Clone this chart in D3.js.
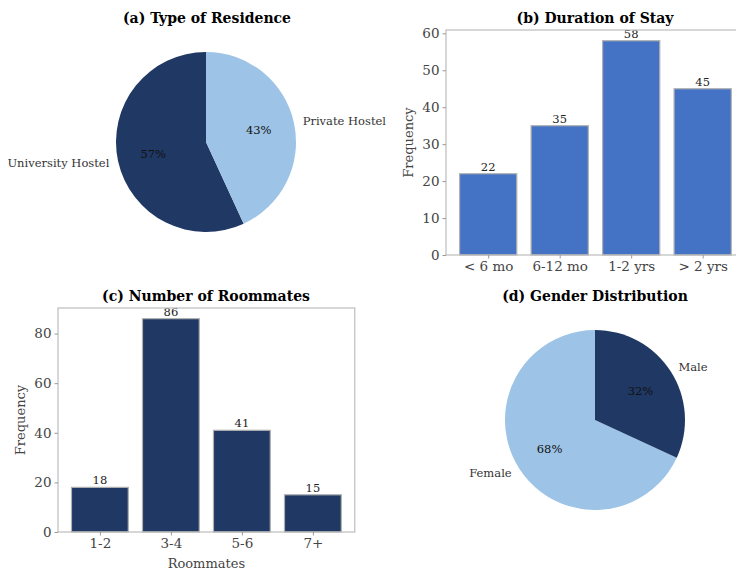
<!DOCTYPE html>
<html>
<head>
<meta charset="utf-8">
<script src="https://cdn.jsdelivr.net/npm/d3@7"></script>
<style>
  body { margin: 0; background: #fff; }
  svg { display: block; font-family: "DejaVu Serif", serif; }
</style>
</head>
<body>
<script>
// data
var residenceLabels = ["University Hostel", "Private Hostel"];
var residenceCounts = [91, 69];

var stayLabels = ["< 6 mo", "6-12 mo", "1-2 yrs", "> 2 yrs"];
var stayCounts = [22, 35, 58, 45];
var stayTicks = [0, 10, 20, 30, 40, 50, 60];

var roomLabels = ["1-2", "3-4", "5-6", "7+"];
var roomCounts = [18, 86, 41, 15];
var roomTicks = [0, 20, 40, 60, 80];

var genderLabels = ["Female", "Male"];
var genderCounts = [109, 51];

var dark = "#203864", light = "#9dc3e6", mid = "#4472c4";

var svg = d3.select("body").append("svg")
            .attr("width", 736)
            .attr("height", 570);

function title(x, y, t) {
  svg.append("text").attr("x", x).attr("y", y)
     .attr("text-anchor", "middle")
     .style("font-weight", "bold").style("font-size", "14px")
     .attr("fill", "#000").text(t);
}

// pie, first slice goes counterclockwise from top (like matplotlib startangle=90)
function pieChart(cx, cy, r, labels, counts, colors) {
  var g = svg.append("g").attr("transform", "translate(" + cx + "," + cy + ")");
  var pie = d3.pie().sort(null).startAngle(0).endAngle(-2 * Math.PI);
  var arcs = pie(counts);
  var arc = d3.arc().innerRadius(0).outerRadius(r);
  var total = d3.sum(counts);

  g.selectAll("path").data(arcs).enter().append("path")
   .attr("d", arc)
   .attr("fill", function(d, i) { return colors[i]; });

  arcs.forEach(function(d, i) {
    var a = (d.startAngle + d.endAngle) / 2;
    var sx = Math.sin(a), sy = -Math.cos(a);
    g.append("text")
     .attr("x", sx * r * 0.6).attr("y", sy * r * 0.6)
     .attr("dy", "0.35em").attr("text-anchor", "middle")
     .style("font-size", "11.5px").attr("fill", "#111")
     .text(Math.round(d.value / total * 100) + "%");
    g.append("text")
     .attr("x", sx * r * 1.1).attr("y", sy * r * 1.1)
     .attr("dy", "0.35em")
     .attr("text-anchor", sx > 0 ? "start" : "end")
     .style("font-size", "11.5px").attr("fill", "#333")
     .text(labels[i]);
  });
}

function barChart(left, top, bottom, step, cats, vals, ticks, color, xlab) {
  var n = cats.length;
  var lo = -0.59, hi = n - 1 + 0.59;
  var right = left + (hi - lo) * step;
  var x = d3.scaleLinear().domain([lo, hi]).range([left, right]);
  var ymax = d3.max(vals) * 1.05;
  var y = d3.scaleLinear().domain([0, ymax]).range([bottom, top]);
  var g = svg.append("g");

  g.selectAll("rect").data(vals).enter().append("rect")
   .attr("x", function(d, i) { return x(i - 0.4); })
   .attr("width", function() { return x(0.4) - x(-0.4); })
   .attr("y", function(d) { return y(d); })
   .attr("height", function(d) { return y(0) - y(d); })
   .attr("fill", color)
   .attr("stroke", "#b0b0b0").attr("stroke-width", 1.2);

  g.selectAll(".val").data(vals).enter().append("text")
   .attr("x", function(d, i) { return x(i); })
   .attr("y", function(d) { return y(d) - 3; })
   .attr("text-anchor", "middle")
   .style("font-size", "11.5px").attr("fill", "#222")
   .text(function(d) { return d; });

  // frame
  g.append("rect").attr("x", left).attr("y", top)
   .attr("width", right - left).attr("height", bottom - top)
   .attr("fill", "none").attr("stroke", "#bdbdbd").attr("stroke-width", 1.2);

  var ya = g.append("g").attr("transform", "translate(" + left + ",0)")
            .call(d3.axisLeft(y).tickValues(ticks).tickSize(3.5).tickPadding(3));
  var xa = g.append("g").attr("transform", "translate(0," + bottom + ")")
            .call(d3.axisBottom(x).tickValues(d3.range(n)).tickSize(3.5).tickPadding(3)
                    .tickFormat(function(i) { return cats[i]; }));
  [ya, xa].forEach(function(a) {
    a.select(".domain").remove();
    a.selectAll("line").attr("stroke", "#999");
    a.selectAll("text").style("font-family", "DejaVu Serif, serif")
     .style("font-size", "13.5px").attr("fill", "#444");
  });

  g.append("text")
   .attr("transform", "translate(" + (left - 33) + "," + ((top + bottom) / 2) + ") rotate(-90)")
   .attr("text-anchor", "middle")
   .style("font-size", "13px").attr("fill", "#444")
   .text("Frequency");

  if (xlab) {
    g.append("text").attr("x", (left + right) / 2).attr("y", bottom + 36)
     .attr("text-anchor", "middle")
     .style("font-size", "13px").attr("fill", "#444")
     .text(xlab);
  }
}

title(207, 23, "(a) Type of Residence");
pieChart(206, 142, 90, residenceLabels, residenceCounts, [dark, light]);

title(595, 23, "(b) Duration of Stay");
barChart(446, 30, 255, 71.5, stayLabels, stayCounts, stayTicks, mid, null);

title(206, 301, "(c) Number of Roommates");
barChart(58, 308, 532, 71, roomLabels, roomCounts, roomTicks, dark, "Roommates");

title(595, 301, "(d) Gender Distribution");
pieChart(595, 420, 90, genderLabels, genderCounts, [light, dark]);
</script>
</body>
</html>
